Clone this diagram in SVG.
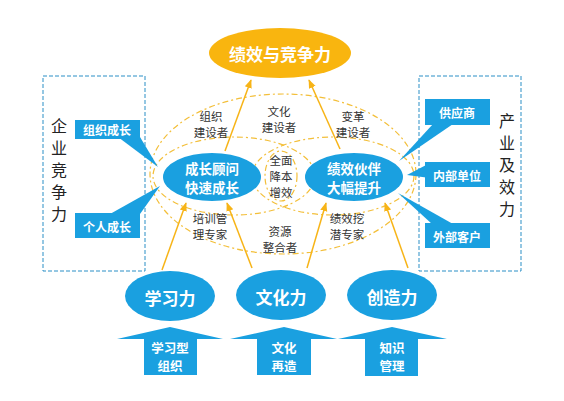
<svg xmlns="http://www.w3.org/2000/svg" width="564" height="401" viewBox="0 0 564 401">
<style>
text{font-family:"Noto Sans CJK SC","Noto Sans",sans-serif;text-anchor:middle;dominant-baseline:central}
.w{fill:#fff;font-weight:bold}
.d{fill:#333;font-size:11.5px}
.v{writing-mode:vertical-rl;text-anchor:start;font-size:16px;letter-spacing:6px;fill:#222}
.blue{fill:#1AA0E0}
.box{fill:none;stroke:#2A8FC6;stroke-width:1;stroke-dasharray:4 2}
.ring{fill:none;stroke:#F3BF3A;stroke-width:1.2;stroke-dasharray:6 3 2 3}
.conn{stroke:#F7B417;stroke-width:1.5;fill:none;marker-end:url(#ah)}
</style>
<defs>
<marker id="ah" viewBox="0 0 10 10" refX="9" refY="5" markerWidth="6" markerHeight="6" orient="auto">
<path d="M0,1 L10,5 L0,9 z" fill="#F7B417"/>
</marker>
</defs>
<rect width="564" height="401" fill="#fff"/>

<g id="rings">
<ellipse class="ring" cx="283" cy="174" rx="133" ry="80"/>
<ellipse class="ring" cx="234" cy="176" rx="81" ry="39"/>
<ellipse class="ring" cx="333" cy="176" rx="81" ry="39"/>
<ellipse class="ring" cx="281" cy="176" rx="16" ry="25"/>
</g>

<g id="box-left">
<rect class="box" x="43" y="76" width="102" height="195"/>
<text class="v" x="59" y="118">企业竞争力</text>
</g>
<g id="box-right">
<rect class="box" x="419" y="76" width="102" height="195"/>
<text class="v" x="507" y="113">产业及效力</text>
</g>

<g id="connectors">
<line class="conn" x1="225" y1="151" x2="251" y2="80"/>
<line class="conn" x1="340" y1="149" x2="309" y2="80"/>
<line class="conn" x1="162" y1="270" x2="186" y2="203"/>
<line class="conn" x1="252" y1="268" x2="227" y2="203"/>
<line class="conn" x1="307" y1="268" x2="326" y2="203"/>
<line class="conn" x1="408" y1="268" x2="385" y2="203"/>
</g>

<g id="top">
<ellipse cx="280" cy="53" rx="71" ry="25" fill="#F9B50F"/>
<text class="w" x="280" y="53" font-size="17">绩效与竞争力</text>
</g>

<g id="left-node">
<ellipse class="blue" cx="212" cy="177" rx="49" ry="24"/>
<text class="w" x="212" y="168" font-size="13.5">成长顾问</text>
<text class="w" x="212" y="187" font-size="13.5">快速成长</text>
</g>
<g id="right-node">
<ellipse class="blue" cx="354" cy="177" rx="49" ry="24"/>
<text class="w" x="354" y="168" font-size="13.5">绩效伙伴</text>
<text class="w" x="354" y="187" font-size="13.5">大幅提升</text>
</g>

<g id="labels">
<text class="d" x="211" y="116">组织</text>
<text class="d" x="211" y="132">建设者</text>
<text class="d" x="279" y="111">文化</text>
<text class="d" x="279" y="127">建设者</text>
<text class="d" x="353" y="116">变革</text>
<text class="d" x="353" y="132">建设者</text>
<text class="d" x="281" y="160">全面</text>
<text class="d" x="281" y="176">降本</text>
<text class="d" x="281" y="192">增效</text>
<text class="d" x="210" y="218">培训管</text>
<text class="d" x="210" y="234">理专家</text>
<text class="d" x="280" y="231">资源</text>
<text class="d" x="280" y="247">整合者</text>
<text class="d" x="347" y="218">绩效挖</text>
<text class="d" x="347" y="234">潜专家</text>
</g>

<g id="c-zuzhi">
<polygon class="blue" points="118,137 140,137 158,167"/>
<rect class="blue" x="75" y="120" width="65" height="19"/>
<text class="w" x="107" y="129" font-size="12">组织成长</text>
</g>
<g id="c-geren">
<polygon class="blue" points="110,214 140,214 160,186"/>
<rect class="blue" x="75" y="213" width="65" height="25"/>
<text class="w" x="107" y="226" font-size="12">个人成长</text>
</g>
<g id="c-gongying">
<polygon class="blue" points="433,124 453,124 399,161"/>
<rect class="blue" x="425" y="99" width="65" height="26"/>
<text class="w" x="457" y="112" font-size="12">供应商</text>
</g>
<g id="c-neibu">
<polygon class="blue" points="430,163 430,178 407,175"/>
<rect class="blue" x="425" y="162" width="65" height="25"/>
<text class="w" x="457" y="175" font-size="12">内部单位</text>
</g>
<g id="c-waibu">
<polygon class="blue" points="432,224 453,224 398,193"/>
<rect class="blue" x="425" y="223" width="65" height="25"/>
<text class="w" x="457" y="236" font-size="12">外部客户</text>
</g>

<g id="learn">
<ellipse class="blue" cx="170" cy="296" rx="45" ry="25"/>
<text class="w" x="170" y="297" font-size="17">学习力</text>
</g>
<g id="culture">
<ellipse class="blue" cx="281" cy="295" rx="45" ry="25"/>
<text class="w" x="281" y="296" font-size="17">文化力</text>
</g>
<g id="create">
<ellipse class="blue" cx="392" cy="295" rx="45" ry="25"/>
<text class="w" x="392" y="296" font-size="17">创造力</text>
</g>

<g id="arrow-learn">
<polygon class="blue" points="170,327 223,339 197,339 197,375 144,375 144,339 117,339"/>
<text class="w" x="170" y="347" font-size="12.5">学习型</text>
<text class="w" x="170" y="365" font-size="12.5">组织</text>
</g>
<g id="arrow-culture">
<polygon class="blue" points="284,327 337,339 311,339 311,375 257,375 257,339 230,339"/>
<text class="w" x="284" y="347" font-size="12.5">文化</text>
<text class="w" x="284" y="365" font-size="12.5">再造</text>
</g>
<g id="arrow-create">
<polygon class="blue" points="392,327 447,339 418,339 418,376 365,376 365,339 338,339"/>
<text class="w" x="392" y="347" font-size="12.5">知识</text>
<text class="w" x="392" y="365" font-size="12.5">管理</text>
</g>
</svg>
